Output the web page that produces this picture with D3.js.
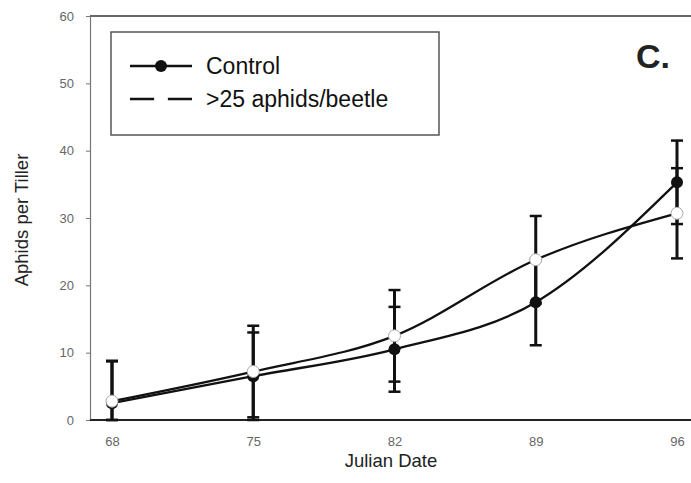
<!DOCTYPE html>
<html>
<head>
<meta charset="utf-8">
<script src="https://cdn.jsdelivr.net/npm/d3@7"></script>
<style>
  body { margin: 0; background: #fff; }
  svg { font-family: "Liberation Sans", Arial, sans-serif; }
</style>
</head>
<body>
<svg id="chart" width="691" height="483"></svg>
<script>
// data
var days = [68, 75, 82, 89, 96];
var controlMean = [2.5, 6.5, 10.5, 17.5, 35.3];
var controlErr  = [6.2, 6.5, 6.3, 6.4, 6.2];
var beetleMean  = [2.8, 7.2, 12.5, 23.8, 30.7];
var beetleErr   = [6.0, 6.8, 6.8, 6.5, 6.7];
var yTicks = [0, 10, 20, 30, 40, 50, 60];

var svg = d3.select("#chart");
var x = d3.scaleLinear().domain([68, 96]).range([112, 677]);
var y = d3.scaleLinear().domain([0, 60]).range([420, 16]);

// frame: top line + bottom line
svg.append("line").attr("x1", 90).attr("x2", 691).attr("y1", 16).attr("y2", 16)
    .attr("stroke", "#333").attr("stroke-width", 1.5);

var yAxis = svg.append("g").attr("transform", "translate(90,0)")
    .call(d3.axisLeft(y).tickValues(yTicks).tickSize(4).tickSizeOuter(0).tickPadding(12));
yAxis.select(".domain").attr("stroke", "#777").attr("stroke-width", 1.2);
yAxis.selectAll(".tick line").attr("stroke", "#777");
yAxis.selectAll("text").attr("font-size", 13).attr("fill", "#666");

var xAxis = svg.append("g").attr("transform", "translate(0,420)")
    .call(d3.axisBottom(x).tickValues(days).tickSize(0).tickPadding(17));
xAxis.select(".domain").remove();
xAxis.selectAll("text").attr("font-size", 13).attr("fill", "#666");
svg.append("line").attr("x1", 90).attr("x2", 691).attr("y1", 420).attr("y2", 420)
    .attr("stroke", "#222").attr("stroke-width", 1.8);

svg.append("text").attr("x", 391).attr("y", 467).attr("text-anchor", "middle")
    .attr("font-size", 18.5).attr("fill", "#222").text("Julian Date");
svg.append("text").attr("transform", "translate(28,220) rotate(-90)")
    .attr("text-anchor", "middle").attr("font-size", 18.5).attr("fill", "#222")
    .text("Aphids per Tiller");

svg.append("text").attr("x", 636).attr("y", 68).attr("font-size", 34)
    .attr("font-weight", "bold").attr("fill", "#222").text("C.");

function drawErr(means, errs) {
    var g = svg.append("g").attr("stroke", "#111");
    days.forEach(function (d, i) {
        var hi = y(means[i] + errs[i]);
        var lo = y(Math.max(0, means[i] - errs[i]));
        g.append("line").attr("x1", x(d)).attr("x2", x(d)).attr("y1", hi).attr("y2", lo)
            .attr("stroke-width", 3);
        [hi, lo].forEach(function (yy) {
            g.append("line").attr("x1", x(d) - 6).attr("x2", x(d) + 6)
                .attr("y1", yy).attr("y2", yy).attr("stroke-width", 2.5);
        });
    });
}
drawErr(controlMean, controlErr);
drawErr(beetleMean, beetleErr);

var line = d3.line().x(function (d, i) { return x(days[i]); })
    .y(function (d) { return y(d); }).curve(d3.curveMonotoneX);

[controlMean, beetleMean].forEach(function (s) {
    svg.append("path").attr("d", line(s)).attr("fill", "none")
        .attr("stroke", "#111").attr("stroke-width", 2.3);
});

svg.selectAll(".ctl").data(controlMean).enter().append("circle")
    .attr("cx", function (d, i) { return x(days[i]); }).attr("cy", function (d) { return y(d); })
    .attr("r", 6).attr("fill", "#111");
svg.selectAll(".btl").data(beetleMean).enter().append("circle")
    .attr("cx", function (d, i) { return x(days[i]); }).attr("cy", function (d) { return y(d); })
    .attr("r", 6).attr("fill", "#fff").attr("stroke", "#aaa").attr("stroke-width", 1);

// legend
var lg = svg.append("g");
lg.append("rect").attr("x", 111).attr("y", 32).attr("width", 328).attr("height", 103)
    .attr("fill", "#fff").attr("stroke", "#555").attr("stroke-width", 1.5);
lg.append("line").attr("x1", 130).attr("x2", 192).attr("y1", 66).attr("y2", 66)
    .attr("stroke", "#111").attr("stroke-width", 2.3);
lg.append("circle").attr("cx", 161).attr("cy", 66).attr("r", 6).attr("fill", "#111");
lg.append("line").attr("x1", 130).attr("x2", 192).attr("y1", 99).attr("y2", 99)
    .attr("stroke", "#111").attr("stroke-width", 2.3);
lg.append("circle").attr("cx", 161).attr("cy", 99).attr("r", 7).attr("fill", "#fff");
lg.append("text").attr("x", 206).attr("y", 74).attr("font-size", 23).attr("fill", "#111").text("Control");
lg.append("text").attr("x", 206).attr("y", 107).attr("font-size", 23).attr("fill", "#111").text(">25 aphids/beetle");
</script>
</body>
</html>
